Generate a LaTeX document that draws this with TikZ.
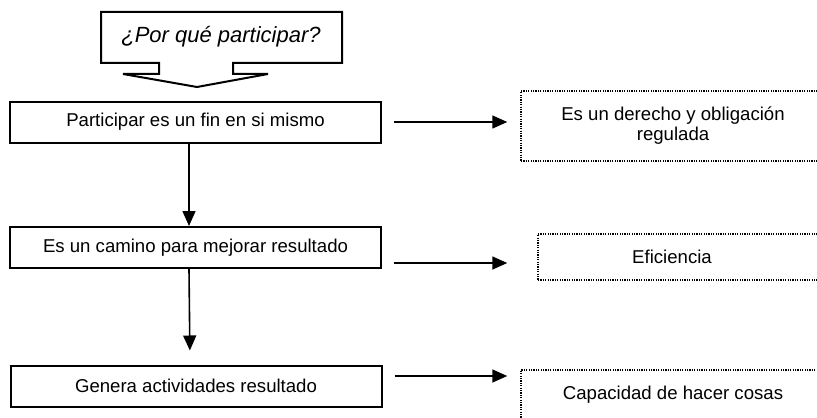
\documentclass[tikz,border=0pt]{standalone}
\usepackage{fontspec}
\setmainfont{Liberation Sans}
\usetikzlibrary{arrows.meta,positioning}

\tikzset{
  stepbox/.style={draw, line width=1pt, minimum width=185.5pt, minimum height=20.5pt, inner sep=0pt},
  notebox/.style={draw, line width=0.75pt, dash pattern=on 0.6pt off 0.6pt, inner sep=0pt, align=center},
  flow/.style={-{Triangle[length=7.5pt,width=6.5pt]}, line width=0.8pt},
}

\begin{document}
\begin{tikzpicture}[x=0.5pt, y=-0.5pt, font=\fontsize{9.3}{10}\selectfont]
\clip (0,0) rectangle (817,417);
% question callout
\node[font=\fontsize{11}{12}\selectfont\itshape] (q) at (221,37) {¿Por qué participar?};
\draw[line width=1pt] (101,12) -- (342,12) -- (342,63) -- (233,63) -- (233,74) -- (268,74)
  -- (197,87) -- (123,74) -- (159,74) -- (159,63) -- (101,63) -- cycle;
% main steps
\node[stepbox] (b1) at (195.5,122) {Participar es un fin en si mismo};
\node[stepbox] (b2) at (195.5,247.5) {Es un camino para mejorar resultado};
\node[stepbox] (b3) at (196,386) {Genera actividades resultado};
% notes on the right
\node[notebox, minimum width=152pt, minimum height=35pt] (n1) at (673,126) {Es un derecho y obligación\\regulada};
\node[notebox, minimum width=152pt, minimum height=23pt] (n2) at (690,257) {};
\node at (672,257) {Eficiencia};
\node[notebox, minimum width=152pt, minimum height=40pt] (n3) at (673,410) {};
\node at (673,395) {Capacidad de hacer cosas};
% arrows
\draw[flow] ([xshift=-3.25pt]b1.south) -- ([xshift=-3.25pt]b2.north);
\draw[flow, shorten >=7pt] ([xshift=-3.25pt]b2.south) -- ([xshift=-3pt]b3.north);
\draw[flow, shorten <=6pt, shorten >=6.5pt] (b1.east) -- (b1.east -| n1.west);
\draw[flow, shorten <=6pt, shorten >=15pt] ([yshift=-7.75pt]b2.east) -- ([yshift=-7.75pt]b2.east -| n2.west);
\draw[flow, shorten <=6pt, shorten >=6.5pt] ([yshift=5pt]b3.east) -- ([yshift=5pt]b3.east -| n3.west);
\end{tikzpicture}
\end{document}
